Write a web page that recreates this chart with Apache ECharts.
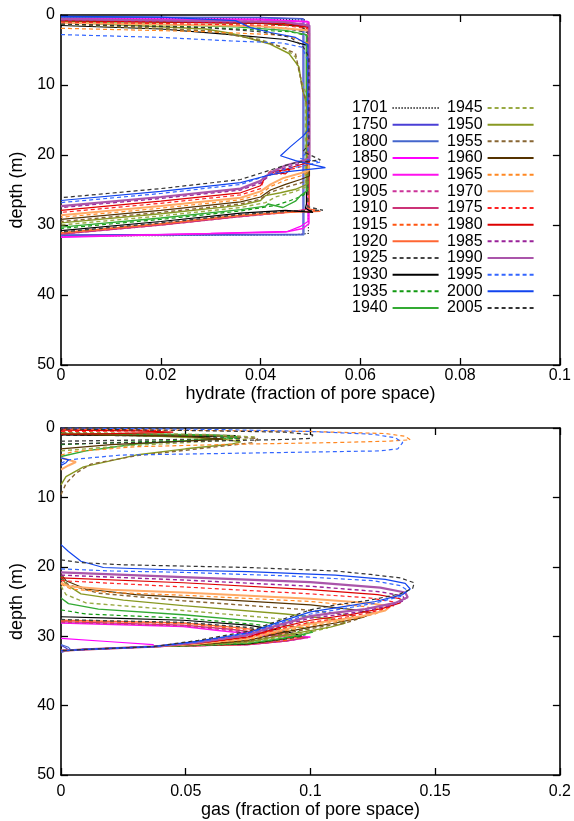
<!DOCTYPE html>
<html><head><meta charset="utf-8">
<script src="https://cdn.jsdelivr.net/npm/echarts@6/dist/echarts.min.js"></script>
<style>html,body{margin:0;padding:0;background:#fff}#c{width:574px;height:821px}</style>
</head><body><div id="c"></div>
<script>
// ---------- data: [fraction, depth m] ----------
const years = ['1701','1750','1800','1850','1900','1905','1910','1915','1920','1925','1930','1935','1940',
               '1945','1950','1955','1960','1965','1970','1975','1980','1985','1990','1995','2000','2005'];
const hydrateTicks = [0, 0.02, 0.04, 0.06, 0.08, 0.1];
const gasTicks = [0, 0.05, 0.1, 0.15, 0.2];
const depthTicks = [0, 10, 20, 30, 40, 50];

// hydrate profiles
const hyd1701 = [[0,0.4],[0.03,0.5],[0.049,0.7],[0.0496,1.2],[0.0496,31.2],[0.047,31.4],[0,31.6]];
const hyd1750 = [[0,0.3],[0.04,0.35],[0.0485,0.5],[0.0485,31.3],[0.03,31.35],[0,31.4]];
const hyd1800 = [[0,0.3],[0.04,0.4],[0.0487,0.6],[0.0487,31.4],[0.03,31.45],[0,31.5]];
const hyd1850 = [[0,0.5],[0.04,0.6],[0.0495,0.9],[0.0495,29.5],[0.048,30.2],[0.0455,30.9],[0.03,31.2],[0,31.7]];
const hyd1900 = [[0,0.6],[0.04,0.7],[0.0497,1.0],[0.0497,29.8],[0.0485,30.5],[0.045,31.0],[0.02,31.4],[0,31.75]];
const hyd1905 = [[0,0.7],[0.04,0.9],[0.0495,1.3],[0.0495,27.5],[0.048,28.0],[0.044,28.3],[0.036,28.8],[0.02,30.0],[0,31.3]];
const hyd1910 = [[0,0.8],[0.04,1.0],[0.0497,1.5],[0.0497,27.2],[0.049,27.8],[0.045,28.2],[0.036,28.8],[0.02,30.0],[0,31.3]];
const hyd1915 = [[0,0.9],[0.04,1.1],[0.0495,1.6],[0.0495,27.6],[0.0515,28.0],[0.046,28.1],[0.036,28.6],[0.02,29.8],[0,31.1]];
const hyd1920 = [[0,0.9],[0.04,1.15],[0.0497,1.7],[0.0497,27.7],[0.052,28.05],[0.046,28.2],[0.036,28.65],[0.02,29.85],[0,31.15]];
const hyd1925 = [[0,1.1],[0.035,1.5],[0.045,1.9],[0.0495,2.5],[0.0495,27.4],[0.0525,27.9],[0.046,28.0],[0.036,28.5],[0.02,29.7],[0,31.0]];
const hyd1930 = [[0,1.5],[0.02,2.0],[0.034,2.8],[0.045,3.5],[0.0492,4.3],[0.0492,27.0],[0.049,27.6],[0.0505,28.2],[0.045,27.9],[0.036,28.3],[0.02,29.5],[0,30.8]];
const hyd1935 = [[0,1.0],[0.03,1.8],[0.046,2.4],[0.0495,3.0],[0.0495,25.0],[0.0485,25.8],[0.046,26.5],[0.043,27.2],[0.036,28.0],[0.02,29.2],[0,30.5]];
const hyd1940 = [[0,0.9],[0.035,1.7],[0.045,2.2],[0.0492,2.8],[0.0492,25.2],[0.048,25.8],[0.047,26.6],[0.0445,27.5],[0.0415,27.0],[0.041,27.3],[0.036,27.8],[0.02,29.0],[0,30.3]];
const hyd1945 = [[0,1.3],[0.03,2.3],[0.04,3.5],[0.045,4.8],[0.047,6.0],[0.048,8.9],[0.049,11.0],[0.049,24.6],[0.047,25.2],[0.043,26.0],[0.041,26.8],[0.036,27.5],[0.02,28.7],[0,30.0]];
const hyd1950 = [[0,1.0],[0.029,2.0],[0.034,2.6],[0.0417,4.1],[0.0457,5.5],[0.0477,7.4],[0.0483,10.3],[0.0493,13.0],[0.0493,24.2],[0.047,24.9],[0.044,25.4],[0.041,25.8],[0.04,26.5],[0.036,27.2],[0.02,28.4],[0,29.7]];
const hyd1955 = [[0,1.2],[0.03,2.3],[0.038,3.3],[0.044,4.5],[0.047,5.5],[0.048,8.9],[0.0485,10.9],[0.0495,13.0],[0.0495,23.6],[0.048,24.0],[0.045,24.6],[0.042,25.3],[0.04,26.3],[0.036,27.0],[0.02,28.2],[0,29.5]];
const hyd1960 = [[0,0.8],[0.04,1.2],[0.048,1.6],[0.0498,2.5],[0.0498,23.0],[0.048,23.5],[0.045,24.2],[0.042,25.0],[0.04,26.0],[0.036,26.7],[0.02,27.9],[0,29.2]];
const hyd1965 = [[0,1.9],[0.03,2.4],[0.045,2.9],[0.0495,4.0],[0.0495,22.5],[0.048,23.0],[0.045,23.6],[0.042,24.5],[0.04,25.6],[0.036,26.4],[0.02,27.6],[0,28.9]];
const hyd1970 = [[0,1.1],[0.04,1.6],[0.0497,2.2],[0.0497,22.2],[0.048,22.6],[0.0445,23.3],[0.042,24.2],[0.04,25.2],[0.036,26.1],[0.02,27.3],[0,28.6]];
const hyd1975 = [[0,1.0],[0.045,1.5],[0.0498,2.0],[0.0498,21.3],[0.047,21.9],[0.042,22.6],[0.044,22.8],[0.045,22.1],[0.042,22.3],[0.041,23.0],[0.040,24.8],[0.036,25.7],[0.02,26.9],[0,28.2]];
const hyd1980 = [[0,0.8],[0.045,1.2],[0.0498,1.8],[0.0498,21.0],[0.047,21.6],[0.043,22.5],[0.045,22.7],[0.046,22.0],[0.043,22.3],[0.041,23.1],[0.04,24.4],[0.036,25.4],[0.02,26.6],[0,27.9]];
const hyd1985 = [[0,0.7],[0.045,1.1],[0.0496,1.6],[0.0496,20.8],[0.048,21.2],[0.045,21.8],[0.042,22.8],[0.04,24.0],[0.036,25.0],[0.02,26.2],[0,27.5]];
const hyd1990 = [[0,0.6],[0.045,1.0],[0.0498,1.5],[0.0498,20.5],[0.048,20.9],[0.045,21.5],[0.042,22.5],[0.04,23.7],[0.036,24.8],[0.02,26.0],[0,27.3]];
const hyd1995 = [[0,2.8],[0.02,3.2],[0.034,3.7],[0.0443,4.0],[0.0483,4.6],[0.0495,6.5],[0.0495,19.5],[0.048,20.5],[0.052,21.0],[0.049,21.5],[0.045,22.0],[0.041,23.0],[0.036,24.2],[0.02,25.5],[0,26.8]];
const hyd2000 = [[0,0.2],[0.02,0.3],[0.035,0.8],[0.038,1.8],[0.042,2.5],[0.047,3.2],[0.0495,4.2],[0.0495,16.5],[0.0485,17.3],[0.046,18.8],[0.044,20.1],[0.047,20.8],[0.053,21.8],[0.045,22.4],[0.041,23.0],[0.036,23.95],[0.02,25.2],[0,26.5]];
const hyd2005 = [[0,1.3],[0.029,1.8],[0.04,2.4],[0.046,3.2],[0.0485,4.5],[0.0497,6.0],[0.0497,18.5],[0.0485,19.5],[0.052,20.7],[0.047,21.1],[0.0444,21.6],[0.036,23.5],[0.02,24.8],[0,26.1]];

// gas profiles, deep layer
const gas1701 = [[0,31.6],[0.001,32.0],[0,32.2]];
const gas1750 = [[0,31.3],[0.002,31.7],[0.003,32.0],[0,32.3]];
const gas1800 = [[0,31.2],[0.003,31.6],[0.004,32.0],[0,32.3]];
const gas1850 = [[0,30.3],[0.02,30.8],[0.037,31.2],[0.037,31.5],[0.01,31.9],[0,32.1]];
const gas1900 = [[0,28.1],[0.049,28.6],[0.064,29.2],[0.083,29.9],[0.1,30.1],[0.09,30.7],[0.0754,31.2],[0.037,31.5],[0.01,31.9],[0,32.1]];
const gas1905 = [[0,28.0],[0.049,28.5],[0.066,29.1],[0.084,29.9],[0.099,30.2],[0.09,30.7],[0.075,31.2],[0.037,31.5],[0.01,31.9],[0,32.1]];
const gas1910 = [[0,27.9],[0.049,28.4],[0.068,29.0],[0.085,29.8],[0.098,30.2],[0.09,30.7],[0.075,31.2],[0.037,31.5],[0.01,31.9],[0,32.1]];
const gas1915 = [[0,27.8],[0.049,28.2],[0.07,28.9],[0.087,29.7],[0.097,30.1],[0.09,30.6],[0.075,31.15],[0.037,31.5],[0.01,31.9],[0,32.1]];
const gas1920 = [[0,27.7],[0.049,28.1],[0.072,28.8],[0.088,29.6],[0.096,30.1],[0.088,30.5],[0.075,31.15],[0.055,31.35],[0.037,31.5],[0.01,31.9],[0,32.1]];
const gas1925 = [[0,27.6],[0.02,27.8],[0.049,28.0],[0.074,28.7],[0.09,29.5],[0.097,30.0],[0.09,30.4],[0.075,31.1],[0.055,31.35],[0.037,31.5],[0.01,31.9],[0,32.1]];
const gas1930 = [[0,27.2],[0.02,27.4],[0.049,27.7],[0.075,28.4],[0.09,29.3],[0.096,29.9],[0.09,30.3],[0.075,31.1],[0.055,31.3],[0.037,31.5],[0.01,31.9],[0,32.1]];
const gas1935 = [[0,26.2],[0.01,26.8],[0.049,27.4],[0.078,28.3],[0.094,29.2],[0.098,29.8],[0.092,30.2],[0.075,31.05],[0.055,31.3],[0.037,31.5],[0.01,31.9],[0,32.1]];
const gas1940 = [[0,24.5],[0.003,25.3],[0.015,26.1],[0.049,26.9],[0.08,27.9],[0.097,28.8],[0.101,29.4],[0.095,29.9],[0.087,30.4],[0.075,31.0],[0.055,31.3],[0.037,31.5],[0.01,31.9],[0,32.1]];
const gas1945 = [[0,22.8],[0.002,24.0],[0.01,25.2],[0.049,26.3],[0.085,27.4],[0.103,28.3],[0.107,28.8],[0.1,29.4],[0.087,30.2],[0.075,30.9],[0.055,31.3],[0.037,31.5],[0.01,31.9],[0,32.1]];
const gas1950 = [[0,21.4],[0.002,22.5],[0.008,23.9],[0.025,24.8],[0.049,25.6],[0.09,26.8],[0.11,27.6],[0.114,28.1],[0.108,28.7],[0.1,29.2],[0.087,30.0],[0.075,30.8],[0.055,31.2],[0.037,31.5],[0.01,31.9],[0,32.1]];
const gas1955 = [[0,21.5],[0.003,22.6],[0.015,23.8],[0.049,24.9],[0.095,26.1],[0.115,26.9],[0.12,27.4],[0.114,28.1],[0.1,28.9],[0.087,29.8],[0.075,30.7],[0.055,31.2],[0.037,31.5],[0.01,31.9],[0,32.1]];
const gas1960 = [[0,21.0],[0.002,22.0],[0.01,23.2],[0.03,24.0],[0.049,24.4],[0.1,25.5],[0.118,26.2],[0.125,26.7],[0.121,27.3],[0.11,28.1],[0.1,28.7],[0.087,29.6],[0.075,30.6],[0.055,31.2],[0.037,31.5],[0.01,31.9],[0,32.1]];
const gas1965 = [[0,22.5],[0.004,23.2],[0.02,23.7],[0.049,24.1],[0.1,25.0],[0.121,25.7],[0.129,26.2],[0.126,26.8],[0.116,27.6],[0.1,28.5],[0.087,29.4],[0.075,30.5],[0.055,31.1],[0.037,31.5],[0.01,31.9],[0,32.1]];
const gas1970 = [[0,22.3],[0.003,22.8],[0.02,23.3],[0.049,23.7],[0.1,24.6],[0.123,25.2],[0.132,25.7],[0.13,26.3],[0.121,27.1],[0.11,27.7],[0.1,28.2],[0.087,29.2],[0.075,30.3],[0.055,31.1],[0.037,31.5],[0.01,31.9],[0,32.1]];
const gas1975 = [[0,22.0],[0.049,22.9],[0.1,23.9],[0.124,24.5],[0.134,25.1],[0.133,25.7],[0.125,26.5],[0.112,27.4],[0.1,28.0],[0.087,29.0],[0.075,30.2],[0.055,31.0],[0.037,31.5],[0.01,31.9],[0,32.1]];
const gas1980 = [[0,21.6],[0.049,22.3],[0.1,23.3],[0.127,24.0],[0.136,24.6],[0.136,25.2],[0.129,26.0],[0.116,26.9],[0.1,27.7],[0.087,28.8],[0.075,30.1],[0.055,31.0],[0.037,31.5],[0.01,31.9],[0,32.1]];
const gas1985 = [[0,21.2],[0.049,21.9],[0.1,22.8],[0.128,23.6],[0.137,24.2],[0.138,24.8],[0.132,25.6],[0.12,26.5],[0.1,27.4],[0.087,28.6],[0.075,29.9],[0.055,30.9],[0.037,31.5],[0.01,31.9],[0,32.1]];
const gas1990 = [[0,20.8],[0.049,21.5],[0.1,22.2],[0.128,23.0],[0.138,23.7],[0.139,24.4],[0.134,25.2],[0.122,26.1],[0.11,26.6],[0.1,27.1],[0.087,28.4],[0.075,29.8],[0.055,30.9],[0.037,31.5],[0.01,31.9],[0,32.1]];
const gas1995 = [[0,20.3],[0.02,20.6],[0.049,20.8],[0.09,21.3],[0.125,22.0],[0.136,22.7],[0.139,23.4],[0.136,24.3],[0.125,25.3],[0.112,26.1],[0.1,26.8],[0.087,28.2],[0.075,29.6],[0.055,30.8],[0.037,31.5],[0.01,31.9],[0,32.1]];
const gas2000 = [[0,16.8],[0.003,17.8],[0.008,19.2],[0.017,20.1],[0.049,20.5],[0.075,20.7],[0.11,21.2],[0.13,21.8],[0.138,22.4],[0.14,23.2],[0.137,24.0],[0.126,25.0],[0.112,25.8],[0.1,26.5],[0.087,28.0],[0.075,29.5],[0.055,30.7],[0.037,31.5],[0.01,31.9],[0,32.1]];
const gas2005 = [[0,19.0],[0.008,19.4],[0.024,19.7],[0.075,20.1],[0.11,20.6],[0.124,21.1],[0.136,21.6],[0.1416,22.3],[0.141,23.1],[0.136,23.9],[0.124,24.8],[0.11,25.5],[0.1,26.2],[0.087,27.8],[0.075,29.3],[0.055,30.6],[0.037,31.5],[0.01,31.9],[0,32.1]];

// gas profiles, shallow layer
const gasTop1925 = [[0,1.9],[0.03,1.75],[0.06,1.6],[0.072,1.5],[0.06,1.3],[0.03,1.1],[0,1.0]];
const gasTop1930 = [[0,1.0],[0.03,1.1],[0.06,1.2],[0.07,1.1],[0.04,0.9],[0,0.8]];
const gasTop1935 = [[0,2.4],[0.03,2.0],[0.065,1.6],[0.072,1.4],[0.065,1.15],[0.03,0.95],[0,0.8]];
const gasTop1940 = [[0,4.1],[0.01,3.3],[0.03,2.3],[0.06,1.6],[0.072,1.3],[0.06,1.0],[0.03,0.85],[0,0.77]];
const gasTop1945 = [[0,3.3],[0.02,2.7],[0.05,2.1],[0.075,1.6],[0.078,1.3],[0.06,0.95],[0,0.6]];
const gasTop1950 = [[0,8.2],[0.002,7.0],[0.009,5.6],[0.03,3.9],[0.05,3.0],[0.068,2.35],[0.072,2.0],[0.065,1.6],[0.04,1.2],[0,0.8]];
const gasTop1955 = [[0,9.6],[0.002,8.0],[0.006,6.5],[0.012,5.2],[0.03,4.0],[0.06,2.8],[0.077,2.1],[0.079,1.5],[0.06,1.1],[0,0.7]];
const gasTop1960 = [[0,3.0],[0.02,2.4],[0.05,1.9],[0.065,1.6],[0.05,1.2],[0,0.9]];
const gasTop1965 = [[0,3.9],[0.005,3.4],[0.03,2.7],[0.068,2.35],[0.11,2.1],[0.131,1.9],[0.14,1.7],[0.138,1.2],[0.13,0.8],[0.1,0.5],[0.043,0.3],[0,0.15]];
const gasTop1970 = [[0,6.0],[0.003,5.4],[0.006,4.9],[0.002,4.5],[0,4.3]];
const gasTop1975 = [[0,0.5],[0.02,0.45],[0.04,0.35],[0.02,0.2],[0,0.15]];
const gasTop1980 = [[0,0.9],[0.02,0.8],[0.045,0.6],[0.03,0.4],[0,0.3]];
const gasTop1995 = [[0,5.1],[0.0025,4.6],[0.024,3.9],[0.077,3.6],[0.128,3.3],[0.135,3.0],[0.137,2.1],[0.134,1.4],[0.125,0.9],[0.1,0.5],[0.06,0.2],[0.02,0.05],[0,0]];
const gasTop2000 = [[0,5.4],[0.002,5.0],[0.003,4.6],[0,4.3]];
const gasTop2005 = [[0,2.3],[0.05,1.95],[0.09,1.65],[0.1,1.5],[0.101,1.0],[0.09,0.6],[0.05,0.35],[0,0.15]];

const hydrateByYear = {1701:hyd1701,1750:hyd1750,1800:hyd1800,1850:hyd1850,1900:hyd1900,1905:hyd1905,1910:hyd1910,
  1915:hyd1915,1920:hyd1920,1925:hyd1925,1930:hyd1930,1935:hyd1935,1940:hyd1940,1945:hyd1945,1950:hyd1950,
  1955:hyd1955,1960:hyd1960,1965:hyd1965,1970:hyd1970,1975:hyd1975,1980:hyd1980,1985:hyd1985,1990:hyd1990,
  1995:hyd1995,2000:hyd2000,2005:hyd2005};
const gasByYear = {1701:gas1701,1750:gas1750,1800:gas1800,1850:gas1850,1900:gas1900,1905:gas1905,1910:gas1910,
  1915:gas1915,1920:gas1920,1925:gas1925,1930:gas1930,1935:gas1935,1940:gas1940,1945:gas1945,1950:gas1950,
  1955:gas1955,1960:gas1960,1965:gas1965,1970:gas1970,1975:gas1975,1980:gas1980,1985:gas1985,1990:gas1990,
  1995:gas1995,2000:gas2000,2005:gas2005};
const gasTopByYear = {1925:gasTop1925,1930:gasTop1930,1935:gasTop1935,1940:gasTop1940,1945:gasTop1945,
  1950:gasTop1950,1955:gasTop1955,1960:gasTop1960,1965:gasTop1965,1970:gasTop1970,1975:gasTop1975,
  1980:gasTop1980,1995:gasTop1995,2000:gasTop2000,2005:gasTop2005};

// ---------- styles ----------
const DASH = [4, 3];
const styleByYear = {
  1701:{c:'#000000',t:[1,2],w:1.2}, 1750:{c:'#4a3fd6',t:'solid',w:1.2}, 1800:{c:'#4466cc',t:'solid',w:1.2},
  1850:{c:'#ff00ff',t:'solid',w:1.2}, 1900:{c:'#ff11ee',t:'solid',w:1.5}, 1905:{c:'#cc3399',t:DASH,w:1.4},
  1910:{c:'#cc3377',t:'solid',w:1.4}, 1915:{c:'#ff5511',t:DASH,w:1.2}, 1920:{c:'#ff6633',t:'solid',w:1.4},
  1925:{c:'#444444',t:DASH,w:1.4}, 1930:{c:'#000000',t:'solid',w:1.2}, 1935:{c:'#119911',t:DASH,w:1.2},
  1940:{c:'#33aa33',t:'solid',w:1.4}, 1945:{c:'#99aa44',t:DASH,w:1.4}, 1950:{c:'#889922',t:'solid',w:1.4},
  1955:{c:'#886633',t:DASH,w:1.4}, 1960:{c:'#553300',t:'solid',w:1.2}, 1965:{c:'#ff8822',t:DASH,w:1.2},
  1970:{c:'#ffaa66',t:'solid',w:2}, 1975:{c:'#ff2222',t:DASH,w:1.2}, 1980:{c:'#dd0000',t:'solid',w:1.2},
  1985:{c:'#992299',t:DASH,w:1.4}, 1990:{c:'#aa55aa',t:'solid',w:2.2}, 1995:{c:'#3366ff',t:DASH,w:1.2},
  2000:{c:'#1144ee',t:'solid',w:1.2}, 2005:{c:'#333333',t:DASH,w:1.2}
};

const FONT = '"Liberation Sans", Arial, Helvetica, sans-serif';
const chart = echarts.init(document.getElementById('c'), null, {renderer:'canvas'});

function lineSeries(name, data, xi, yi) {
  const s = styleByYear[name];
  return {
    type:'line', name:name, data:data, xAxisIndex:xi, yAxisIndex:yi,
    showSymbol:false, symbol:'none', silent:true, animation:false, clip:true,
    lineStyle:{color:s.c, width:s.w, type:s.t},
    itemStyle:{color:s.c}, emphasis:{disabled:true}
  };
}
const series = [];
years.forEach(y => series.push(lineSeries(y, hydrateByYear[y], 0, 0)));
years.forEach(y => {
  series.push(lineSeries(y, gasByYear[y], 2, 2));
  if (gasTopByYear[y]) series.push(lineSeries(y, gasTopByYear[y], 2, 2));
});

const axisLine = {show:true, onZero:false, lineStyle:{color:'#000', width:1.6}};
const axisTick = {show:true, inside:true, length:7, lineStyle:{color:'#000', width:1.3}};
function xAxis(grid, pos, max, interval, labels, name, nameGap, margin) {
  return {type:'value', gridIndex:grid, position:pos, min:0, max:max, interval:interval,
    axisLine:axisLine, axisTick:axisTick, splitLine:{show:false},
    axisLabel:{show:labels, color:'#000', fontSize:16, fontFamily:FONT, margin:margin},
    name:name, nameLocation:'middle', nameGap:nameGap,
    nameTextStyle:{color:'#000', fontSize:18, fontFamily:FONT}};
}
function yAxis(grid, pos, labels, name) {
  return {type:'value', gridIndex:grid, position:pos, min:0, max:50, interval:10, inverse:true,
    axisLine:axisLine, axisTick:axisTick, splitLine:{show:false},
    axisLabel:{show:labels, color:'#000', fontSize:16, fontFamily:FONT, margin:6},
    name:name, nameLocation:'middle', nameGap:26, nameRotate:90,
    nameTextStyle:{color:'#000', fontSize:18, fontFamily:FONT}};
}
const legendCommon = {orient:'vertical', align:'right', selectedMode:false, itemWidth:46, itemHeight:12,
  itemGap:0.67, itemStyle:{opacity:0, borderWidth:0},
  textStyle:{color:'#000', fontSize:16, fontFamily:FONT, lineHeight:16}, padding:0};

chart.setOption({
  animation:false,
  backgroundColor:'#fff',
  grid:[{left:61, right:13, top:15, height:350}, {left:61, right:13, top:428, height:347}],
  xAxis:[
    xAxis(0,'bottom',0.1,0.02,true,'hydrate (fraction of pore space)',19,3),
    xAxis(0,'top',0.1,0.02,false,'',0,2),
    xAxis(1,'bottom',0.2,0.05,true,'gas (fraction of pore space)',24,9),
    xAxis(1,'top',0.2,0.05,false,'',0,2)
  ],
  yAxis:[
    yAxis(0,'left',true,'depth (m)'), yAxis(0,'right',false,''),
    yAxis(1,'left',true,'depth (m)'), yAxis(1,'right',false,'')
  ],
  legend:[
    Object.assign({left:352, top:100, data:years.slice(0,13)}, legendCommon),
    Object.assign({left:447, top:100, data:years.slice(13)}, legendCommon)
  ],
  series:series
});
</script></body></html>
